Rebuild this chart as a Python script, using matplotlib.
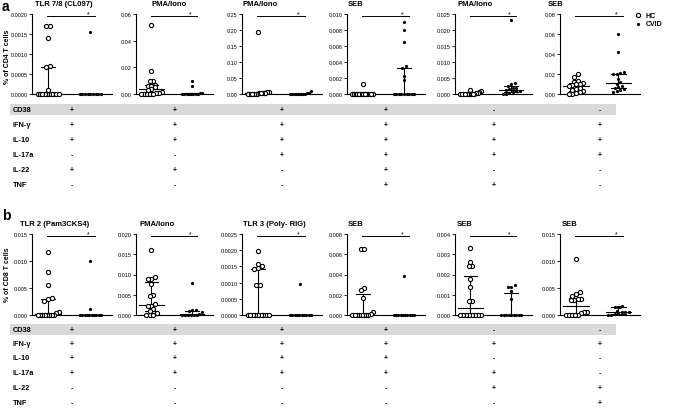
import numpy as np
import matplotlib
matplotlib.use('Agg')
import matplotlib.pyplot as plt

plt.rcParams['font.family'] = ['Liberation Sans', 'DejaVu Sans']

# ---------- data ----------
a_titles = ['TLR 7/8 (CL097)', 'PMA/Iono', 'PMA/Iono', 'SEB', 'PMA/Iono', 'SEB']
a_ymax = [0.0020, 0.06, 0.25, 0.010, 0.025, 0.08]
a_step = ['0.0005', '0.02', '0.05', '0.002', '0.005', '0.02']
a_hc = [
    [0.0017, 0.0017, 0.0014, 0.0007, 0.00068, 0.0001] + [0] * 10,
    [0.052, 0.017, 0.010, 0.010, 0.007, 0.006, 0.006, 0.005, 0.004, 0.003, 0.0015, 0.001, 0.0005] + [0] * 5,
    [0.195, 0.006, 0.005, 0.004, 0.004, 0.003, 0.002, 0.002, 0.001] + [0] * 6,
    [0.0013] + [0] * 14,
    [0.0012, 0.0008, 0.0005, 0.0003, 0.0002] + [0] * 10,
    [0.020, 0.017, 0.013, 0.012, 0.011, 0.010, 0.010, 0.009, 0.008, 0.006, 0.005, 0.004, 0.003, 0.002, 0.001, 0.0005, 0],
]
a_cvid = [
    [0.00155] + [0] * 9,
    [0.010, 0.006, 0.001, 0.0005] + [0] * 8,
    [0.010, 0.003, 0.002, 0.001] + [0] * 8,
    [0.009, 0.008, 0.0065, 0.0035, 0.0032, 0.0022, 0.0017] + [0] * 9,
    [0.023, 0.0035, 0.003, 0.0025, 0.002, 0.002, 0.0015, 0.0012, 0.001, 0.0008, 0.0005, 0.0003, 0.0001, 0],
    [0.060, 0.042, 0.022, 0.021, 0.020, 0.020, 0.015, 0.012, 0.010, 0.008, 0.007, 0.006, 0.005, 0.004, 0.003, 0.002],
]

b_titles = ['TLR 2 (Pam3CKS4)', 'PMA/Iono', 'TLR 3 (Poly- RIG)', 'SEB', 'SEB', 'SEB']
b_ymax = [0.015, 0.020, 0.0025, 0.008, 0.004, 0.015]
b_step = ['0.005', '0.005', '0.0005', '0.002', '0.001', '0.005']
b_hc = [
    [0.0117, 0.008, 0.0055, 0.0032, 0.003, 0.0026, 0.0005, 0.0003] + [0] * 8,
    [0.016, 0.0093, 0.009, 0.009, 0.0077, 0.005, 0.0048, 0.0028, 0.0022, 0.0022, 0.0015, 0.001, 0.0005, 0, 0, 0],
    [0.00198, 0.00156, 0.0015, 0.00145, 0.00141, 0.00093, 0.00093] + [0] * 9,
    [0.0065, 0.0065, 0.0027, 0.0025, 0.0017, 0.0003, 0.0001] + [0] * 8,
    [0.0033, 0.0026, 0.0024, 0.0024, 0.0018, 0.0014, 0.0007, 0.0007] + [0] * 8,
    [0.0104, 0.0042, 0.0038, 0.0036, 0.0030, 0.0029, 0.0028, 0.0027, 0.0006, 0.0005, 0.0004] + [0] * 5,
]
b_cvid = [
    [0.010, 0.0012] + [0] * 10,
    [0.008, 0.0012, 0.0012, 0.001, 0.0008, 0.0003] + [0] * 6,
    [0.00095] + [0] * 10,
    [0.0039] + [0] * 10,
    [0.0015, 0.0014, 0.0014, 0.0012, 0.0008] + [0] * 9,
    [0.0017, 0.0015, 0.0015, 0.0014, 0.0008, 0.0006, 0.0006, 0.0005, 0.0003, 0.0001, 0, 0],
]

row_labels = ['CD38', 'IFN-\u03b3', 'IL-10', 'IL-17a', 'IL-22', 'TNF']
a_table = ['++++--', '++++++', '++++++', '--++++', '++-+--', '---++-']
b_table = ['++++--', '++++++', '++++--', '+++++-', '----++', '-----+']

# ---------- layout (pixels) ----------
W, H = 685, 414
fig = plt.figure(figsize=(W / 100, H / 100), dpi=100)

ax_left = [32, 136, 242, 347, 455, 560]
ax_right = [112, 213, 322, 425, 532, 640]
a_title_x = [35, 152, 243, 348, 458, 548]
b_title_x = [20, 140, 243, 348, 457, 562]


def rect(x0, y0, x1, y1):
    return [x0 / W, 1 - y1 / H, (x1 - x0) / W, (y1 - y0) / H]


def swarm(vals, center, tol, step=0.085, maxw=0.5):
    vals = np.asarray(vals, float)
    order = np.argsort(vals)
    xs = np.zeros(len(vals))
    i = 0
    while i < len(order):
        j = i
        while j + 1 < len(order) and vals[order[j + 1]] - vals[order[i]] <= tol:
            j += 1
        n = j - i + 1
        s = step if n < 2 else min(step, maxw / (n - 1))
        xs[order[i:j + 1]] = center + (np.arange(n) - (n - 1) / 2) * s
        i = j + 1
    return xs


def summary(ax, vals, c):
    q1, med, q3 = np.percentile(vals, [25, 50, 75])
    ax.plot([c - 0.3, c + 0.3], [med, med], color='k', lw=0.8, zorder=4)
    ax.plot([c, c], [q1, q3], color='k', lw=0.8, zorder=4)
    for q in (q1, q3):
        ax.plot([c - 0.17, c + 0.17], [q, q], color='k', lw=0.8, zorder=4)


def panel(rect_px, ymax, step, hc, cvid):
    ax = fig.add_axes(rect(*rect_px))
    tol = 0.045 * ymax
    ax.plot(swarm(hc, 0, tol), hc, 'o', ms=3.0, mfc='white', mec='black', mew=0.8, zorder=5, clip_on=False)
    ax.plot(swarm(cvid, 1, tol), cvid, 'o', ms=2.3, mfc='black', mec='black', mew=0, zorder=5, clip_on=False)
    summary(ax, hc, 0)
    summary(ax, cvid, 1)
    ax.plot([-0.02, 1.12], [ymax * 0.97, ymax * 0.97], color='k', lw=0.7)
    ax.text(0.95, ymax * 1.0, '*', ha='center', va='center', fontsize=5)
    ax.set_xlim(-0.38, 1.51)
    ax.set_ylim(0, ymax)
    st = float(step)
    dec = len(step.split('.')[1])
    ticks = np.arange(0, ymax + st / 2, st)
    ax.set_yticks(ticks)
    ax.set_yticklabels(['%.*f' % (dec, t) for t in ticks])
    ax.set_xticks([])
    for s in ('top', 'right'):
        ax.spines[s].set_visible(False)
    for s in ('left', 'bottom'):
        ax.spines[s].set_linewidth(0.8)
    ax.tick_params(axis='y', labelsize=4, length=2, width=0.6, pad=1)
    return ax


def table(y_rows, band, rows):
    band_ax = fig.add_axes([0, 0, 1, 1], facecolor='none')
    band_ax.set_xlim(0, W)
    band_ax.set_ylim(H, 0)
    band_ax.axis('off')
    band_ax.add_patch(plt.Rectangle((10, band[0]), 606, band[1] - band[0], color='#d9d9d9', lw=0))
    for lab, y, signs in zip(row_labels, y_rows, rows):
        band_ax.text(13, y, lab, ha='left', va='center', fontsize=5.3, fontweight='bold')
        for k, sg in enumerate(signs):
            cx = (ax_left[k] + ax_right[k]) / 2
            band_ax.text(cx, y, sg, ha='center', va='center', fontsize=5, fontweight='bold')


for k in range(6):
    panel((ax_left[k], 15, ax_right[k], 95), a_ymax[k], a_step[k], a_hc[k], a_cvid[k])
    panel((ax_left[k], 235, ax_right[k], 316), b_ymax[k], b_step[k], b_hc[k], b_cvid[k])
    fig.text(a_title_x[k] / W, 1 - 5 / H, a_titles[k], ha='left', va='center', fontsize=5.5, fontweight='bold')
    fig.text(b_title_x[k] / W, 1 - 225 / H, b_titles[k], ha='left', va='center', fontsize=5.5, fontweight='bold')

table([110.5, 126, 141, 156, 171, 186], (105, 116), a_table)
table([330.5, 345, 359, 374, 389, 404], (325, 336), b_table)

fig.text(8 / W, 1 - 57 / H, '% of CD4 T cells', rotation=90, ha='center', va='center', fontsize=5, fontweight='bold')
fig.text(8 / W, 1 - 275 / H, '% of CD8 T cells', rotation=90, ha='center', va='center', fontsize=5, fontweight='bold')
fig.text(2 / W, 1 - 7 / H, 'a', ha='left', va='center', fontsize=10, fontweight='bold')
fig.text(2 / W, 1 - 216 / H, 'b', ha='left', va='center', fontsize=10, fontweight='bold')

# legend
fig.lines.append(plt.Line2D([638 / W], [1 - 16 / H], marker='o', ms=3.0, mfc='white', mec='black', mew=0.8,
                            transform=fig.transFigure))
fig.lines.append(plt.Line2D([638 / W], [1 - 25 / H], marker='o', ms=2.3, mfc='black', mec='black', mew=0,
                            transform=fig.transFigure))
fig.text(646 / W, 1 - 16 / H, 'HC', ha='left', va='center', fontsize=5, fontweight='bold')
fig.text(646 / W, 1 - 25 / H, 'CVID', ha='left', va='center', fontsize=5, fontweight='bold')

fig.savefig('out.png', dpi=100)
